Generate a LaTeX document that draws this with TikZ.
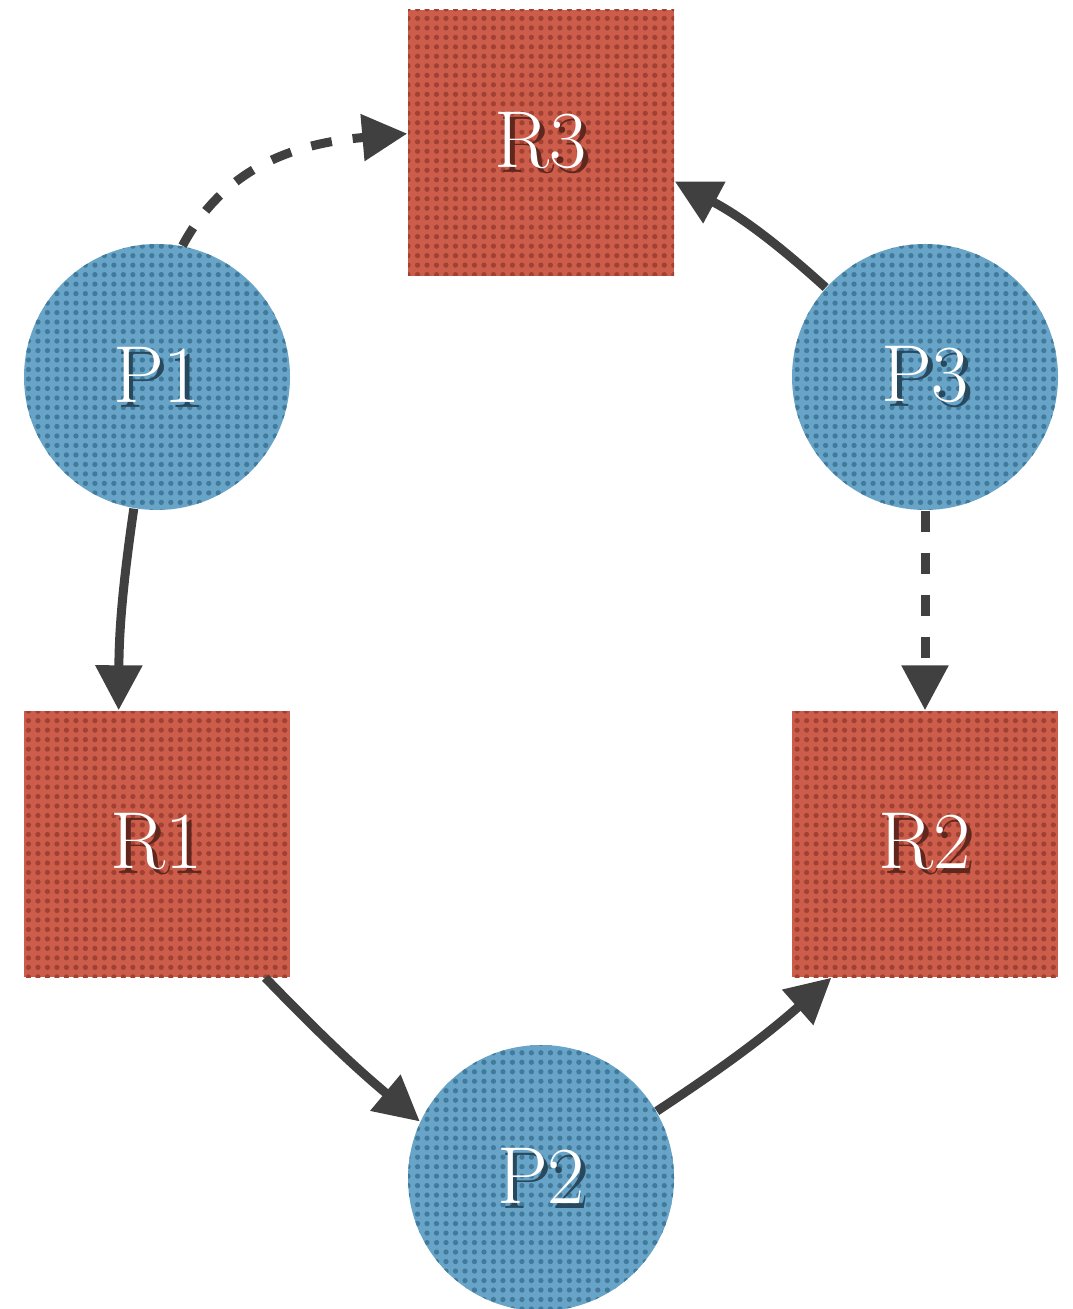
\documentclass[tikz,border=0pt]{standalone}
\usepackage{tikz}
\usetikzlibrary{positioning,arrows.meta,patterns}
\definecolor{procblue}{HTML}{68A4C7}
\definecolor{procdots}{HTML}{427A9B}
\definecolor{resred}{HTML}{CD5D4B}
\definecolor{resdots}{HTML}{A04134}
\definecolor{arrgray}{HTML}{404040}
\newcommand{\shtext}[2]{\rlap{\hspace{1.4pt}\raisebox{-1.4pt}{\textcolor{#1}{#2}}}#2}
\pgfdeclarepatternformonly{fatdots}{\pgfqpoint{-1pt}{-1pt}}{\pgfqpoint{1pt}{1pt}}{\pgfqpoint{2.7pt}{2.7pt}}%
  {\pgfpathcircle{\pgfqpoint{0pt}{0pt}}{0.75pt}\pgfusepath{fill}}

\begin{document}
\begin{tikzpicture}[
  proc/.style={circle, minimum size=2.66cm, inner sep=0pt,
               preaction={fill=procblue}, pattern=fatdots, pattern color=procdots,
               text=white, font=\fontsize{23}{27}\selectfont},
  res/.style={rectangle, minimum size=2.66cm, inner sep=0pt,
              preaction={fill=resred}, pattern=fatdots, pattern color=resdots,
              text=white, font=\fontsize{23}{27}\selectfont},
  arr/.style={-{Triangle[length=0.45cm, width=0.45cm]}, line width=0.09cm, draw=arrgray},
  wait/.style={arr, dash pattern=on 0.21cm off 0.21cm}
]
  \useasboundingbox (0,0) rectangle (10.72,-13.09);

  % resources
  \node[res] (r3) at (5.41,-1.43) {\shtext{resdots!60!black}{R3}};
  \node[res] (r1) at (1.57,-8.44) {\shtext{resdots!60!black}{R1}};
  \node[res] (r2) at (9.25,-8.44) {\shtext{resdots!60!black}{R2}};

  % processes
  \node[proc] (p1) at (1.57,-3.77) {\shtext{procdots!60!black}{P1}};
  \node[proc] (p3) at (9.25,-3.77) {\shtext{procdots!60!black}{P3}};
  \node[proc] (p2) at (5.41,-11.78) {\shtext{procdots!60!black}{P2}};

  % holds / requests
  \draw[wait] (p1.79) to[out=62, in=185] (r3.176);
  \draw[arr] (p1.260) to[bend right=4] (r1.106);
  \draw[arr] (r1.-51) to[bend right=3] (p2.155);
  \draw[arr] (p2.30) to[bend right=4] (r2.235);
  \draw[arr] (p3.138) to[bend right=7] (r3.-16);
  \draw[wait] (p3.south) -- (r2.north);
\end{tikzpicture}
\end{document}
